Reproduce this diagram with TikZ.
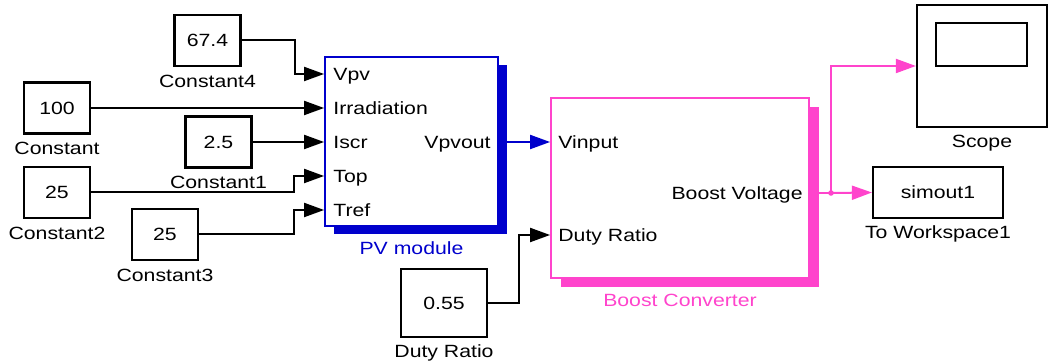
\documentclass[tikz,border=0pt]{standalone}
\usepackage{fontspec}
\setmainfont[FakeStretch=1.2]{Liberation Sans}
\usetikzlibrary{arrows.meta,shadows}
\definecolor{pvblue}{RGB}{0,0,204}
\definecolor{bcpink}{RGB}{255,68,204}
\tikzset{
  const/.style={draw, line width=1.1pt, fill=white, inner sep=0pt, minimum width=33pt, minimum height=25.5pt},
  port/.style={inner sep=0pt, text height=6.3pt, text depth=0pt},
  lbl/.style={inner sep=0pt, text height=6.3pt, text depth=0pt},
  wire/.style={line width=1pt, -{Triangle[length=10pt,width=7pt]}},
  every label/.style={lbl},
  label distance=3.6pt
}
\begin{document}
\begin{tikzpicture}[x=0.5pt, y=-0.5pt, font=\fontsize{8.85pt}{10pt}\selectfont]
\useasboundingbox (0,0) rectangle (1049,362);

\node[const, label=below:Constant4] (c4) at (207.5,40.5) {67.4};
\node[const, label=below:Constant] (c0) at (57,108) {100};
\node[const, label=below:Constant1] (c1) at (218.5,142) {2.5};
\node[const, label=below:Constant2] (c2) at (57,192.5) {25};
\node[const, label=below:Constant3] (c3) at (165,234.5) {25};
\node[const, minimum width=43pt, minimum height=34pt, label={[label distance=3pt]below:Duty Ratio}] (duty) at (444,303) {0.55};

\node[draw=pvblue, line width=0.9pt, fill=white, minimum width=86.5pt, minimum height=84.5pt,
  general shadow={fill=pvblue, shadow xshift=4.5pt, shadow yshift=-4pt},
  label={[label distance=7.3pt, text=pvblue]below:PV module}] (pv) at (411.5,141.5) {};
\node[port, anchor=west] (vpv) at (333,74) {Vpv};
\node[port, anchor=west] (irr) at (333,108) {Irradiation};
\node[port, anchor=west] (iscr) at (333,142) {Iscr};
\node[port, anchor=west] (top) at (333,176) {Top};
\node[port, anchor=west] (tref) at (333,210) {Tref};
\node[port, anchor=east] (vpvout) at (491,142) {Vpvout};

\node[draw=bcpink, line width=0.9pt, fill=white, minimum width=129pt, minimum height=90pt,
  general shadow={fill=bcpink, shadow xshift=5pt, shadow yshift=-4.5pt},
  label={[label distance=7.3pt, text=bcpink]below:Boost Converter}] (boost) at (680,188) {};
\node[port, anchor=west] (vin) at (558,142) {Vinput};
\node[port, anchor=west] (dr) at (558,235) {Duty Ratio};
\node[port, anchor=east] (bv) at (803,193) {Boost Voltage};

\node[const, minimum width=65pt, minimum height=61pt, label={[label distance=3.2pt]below:Scope}] (scope) at (982,66) {};
\node[draw, line width=1.1pt, minimum width=45.5pt, minimum height=21.5pt] (screen) at (981.5,44.5) {};
\node[const, minimum width=65pt, minimum height=25.5pt, label={[label distance=3.2pt]below:To Workspace1}] (ws) at (938,192.5) {simout1};

\draw[wire] (c4.east) -- ++(53,0) |- (pv.west |- vpv);
\draw[wire] (c0.east) -- (pv.west |- irr);
\draw[wire] (c1.east) -- (pv.west |- iscr);
\draw[wire] (c2.east) -- ++(203,0) |- (pv.west |- top);
\draw[wire] (c3.east) -- ++(95,0) |- (pv.west |- tref);
\draw[wire, pvblue] (pv.east |- vpvout) -- (boost.west |- vin);
\draw[wire] (duty.east) -- ++(31,0) |- (boost.west |- dr);

\coordinate (split) at (831,193);
\draw[line width=1pt, bcpink] (boost.east |- bv) -- (split);
\draw[wire, bcpink] (split) |- (scope.west);
\draw[wire, bcpink] (split) -- (ws.west);
\fill[bcpink] (split) circle (1.4pt);
\end{tikzpicture}
\end{document}
